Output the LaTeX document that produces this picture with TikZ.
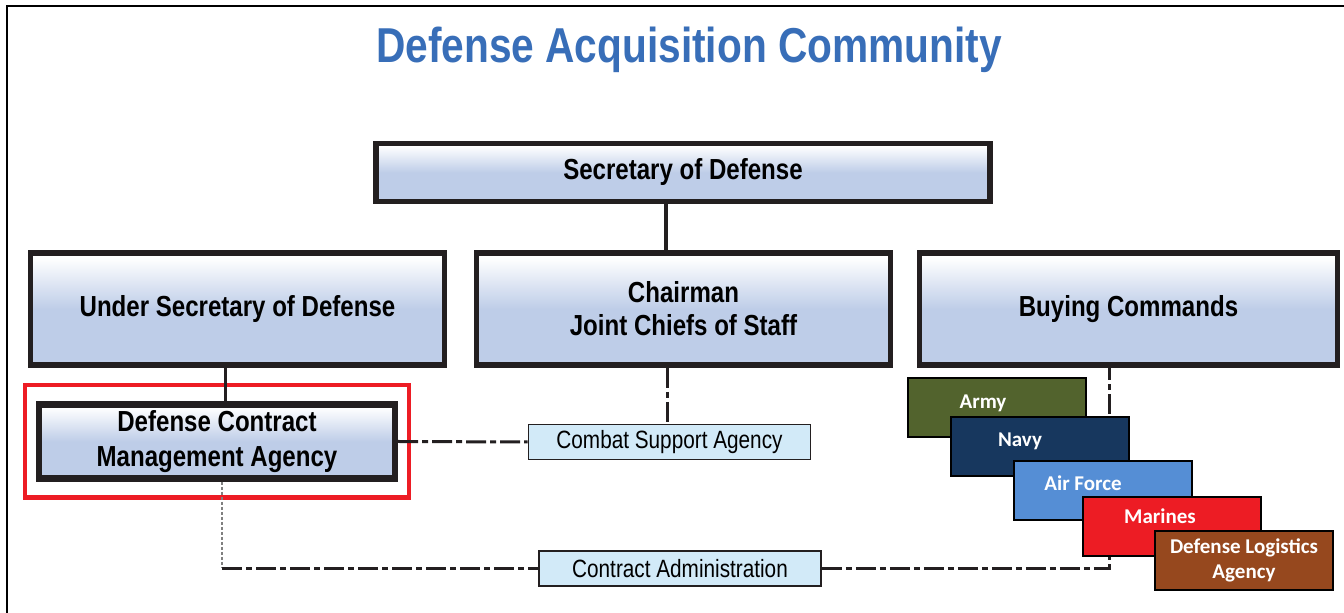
\documentclass[tikz,border=0pt]{standalone}
\usepackage{fontspec}
\usetikzlibrary{positioning}
\usetikzlibrary{fit}

\newfontfamily\boxfont[FakeStretch=0.83]{Liberation Sans}
\newfontfamily\svcfont{Carlito}

\definecolor{inkblack}{RGB}{35,31,32}
\definecolor{titleblue}{RGB}{56,110,184}
\definecolor{boxblue}{RGB}{190,205,232}
\definecolor{agencyblue}{RGB}{210,234,248}
\definecolor{framered}{RGB}{237,28,36}
\definecolor{armygreen}{RGB}{82,99,45}
\definecolor{navyblue}{RGB}{23,55,94}
\definecolor{airblue}{RGB}{85,142,213}
\definecolor{marinered}{RGB}{237,28,36}
\definecolor{dlabrown}{RGB}{150,72,30}

\pgfdeclareverticalshading{officeshade}{100bp}{color(0bp)=(boxblue); color(50bp)=(boxblue); color(73bp)=(white); color(100bp)=(white)}

\tikzset {
  frame/.style = {
    draw = black,
    line width = 1pt
  },
  heading/.style = {
    text = titleblue,
    font = \boxfont\bfseries\fontsize{24.5}{28}\selectfont
  },
  org node/.style = {
    draw = inkblack,
    align = center
  },
  % office: thick frame, shaded fill
  office/.style = {
    org node,
    line width = 2.8pt,
    shading = officeshade,
    minimum width = 207pt,
    minimum height = 56pt,
    inner sep = 2pt,
    font = \boxfont\bfseries\fontsize{14.5}{16.5}\selectfont
  },
  % small flat agency box
  agency/.style = {
    org node,
    line width = 0.8pt,
    fill = agencyblue,
    minimum width = 141pt,
    minimum height = 17.5pt,
    inner sep = 1pt,
    font = \boxfont\fontsize{12.5}{14}\selectfont
  },
  highlight/.style = {
    draw = framered,
    line width = 2.2pt,
    inner xsep = 5.5pt,
    inner ysep = 8pt
  },
  service text/.style = {
    text = white,
    align = center,
    font = \svcfont\bfseries\fontsize{10.5}{12.5}\selectfont
  },
  % buying command box
  service/.style = {
    service text,
    draw = black,
    line width = 1pt,
    minimum width = 89pt,
    minimum height = 29.5pt,
    inner sep = 1pt
  },
  link/.style = {
    draw = inkblack,
    line width = 1.5pt
  },
  dashdot link/.style = {
    link,
    dash pattern = on 10pt off 2pt on 3pt off 2pt
  },
  dotted link/.style = {
    draw = gray,
    line width = 0.6pt,
    dash pattern = on 1.5pt off 1pt
  }
}

\begin{document}
\begin{tikzpicture}[x = 0.5pt, y = -0.5pt]
  \useasboundingbox (0,0) rectangle (1344,613);
  \draw[frame] (7,613) |- (1344,6);

  \node[heading] (title) at (689,50) {Defense Acquisition Community};

  \node[office, minimum width = 307pt, minimum height = 29pt] (sod) at (683,172.5) {Secretary of Defense};
  \node[office] (usd) at (237.5,309) {Under Secretary of Defense};
  \node[office] (chair) at (683.5,309) {Chairman\\Joint Chiefs of Staff};
  \node[office, minimum width = 209pt] (buying) at (1128.5,309) {Buying Commands};
  \node[office, line width = 3.2pt, minimum width = 178pt, minimum height = 37pt, font = \boxfont\bfseries\fontsize{14.5}{17.5}\selectfont] (dcma) at (217,441.5) {Defense Contract\\Management Agency};
  \node[highlight, fit = (dcma)] (focus) {};
  \node[agency] (csa) at (669.5,442) {Combat Support Agency};
  \node[agency] (admin) at (680,568.5) {Contract Administration};

  \draw[link, line width = 2pt] ([xshift=-8.5pt]sod.south) -- ([xshift=-8.5pt]sod.south |- chair.north);
  \draw[link] ([xshift=-6.25pt]usd.south) -- ([xshift=-6.25pt]usd.south |- dcma.north);
  \draw[dashdot link] ([xshift=-8.25pt]chair.south) -- ([xshift=-8.25pt]chair.south |- csa.north);
  \draw[dashdot link] (dcma.east) -- (csa.west);
  \coordinate (bend) at ([xshift=2.5pt]dcma.south |- admin.west);
  \draw[dotted link] ([xshift=2.5pt]dcma.south) -- (bend);
  \draw[dashdot link] (bend) -- (admin.west);
  \draw[dashdot link] (admin.east) -| ([xshift=-9.75pt]buying.south);

  \node[service, fill = armygreen, label = {[service text, xshift = -7pt, yshift = 2.5pt]center:Army}] (army) at (997,408) {};
  \node[service, fill = navyblue, label = {[service text, xshift = -9.75pt, yshift = 3pt]center:Navy}] (navy) at (1039.5,447) {};
  \node[service, fill = airblue, label = {[service text, xshift = -9.75pt, yshift = 3.75pt]center:Air Force}] (airforce) at (1102.5,490.5) {};
  \node[service, fill = marinered, label = {[service text, xshift = -5.75pt, yshift = 5.25pt]center:Marines}] (marines) at (1171.5,526.5) {};
  \node[service, fill = dlabrown] (dla) at (1244,560.5) {Defense Logistics\\Agency};
\end{tikzpicture}
\end{document}
